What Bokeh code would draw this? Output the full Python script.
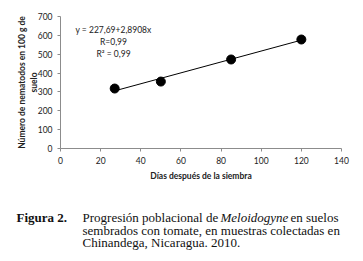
from bokeh.plotting import figure
from bokeh.layouts import column, row
from bokeh.models import Label, FixedTicker, Range1d
from bokeh.embed import file_html
from bokeh.resources import INLINE

dias = [27, 50, 85, 120]
nematodos = [318, 355, 472, 578]
intercept = 227.69
slope = 2.8908
x_ticks = [0, 20, 40, 60, 80, 100, 120, 140]
y_ticks = [0, 100, 200, 300, 400, 500, 600, 700]

fit_x = [min(dias), max(dias)]
fit_y = [intercept + slope * v for v in fit_x]

SANS = "Lato"
SERIF = "Liberation Serif"

p = figure(width=363, height=195, x_range=(0, 140), y_range=(0, 700),
           output_backend="svg", toolbar_location=None,
           min_border_left=60, min_border_right=22, min_border_top=16, min_border_bottom=47)
p.outline_line_color = None
p.xgrid.visible = False
p.ygrid.visible = False

for ax in (p.xaxis[0], p.yaxis[0]):
    ax.axis_line_color = "#8c8c8c"
    ax.major_tick_line_color = "#8c8c8c"
    ax.major_tick_out = 3
    ax.major_tick_in = 0
    ax.minor_tick_line_color = None
    ax.major_label_text_font = SANS
    ax.major_label_text_font_size = "8.5px"
    ax.major_label_text_color = "#222222"
    ax.axis_label_text_font = SANS
    ax.axis_label_text_font_size = "8.5px"
    ax.axis_label_text_font_style = "bold"
    ax.axis_label_text_color = "#222222"

p.xaxis[0].ticker = FixedTicker(ticks=x_ticks)
p.yaxis[0].ticker = FixedTicker(ticks=y_ticks)
p.xaxis[0].axis_label = "Días después de la siembra"
p.yaxis[0].axis_label = "Número de nematodos en 100 g de\nsuelo"
p.xaxis[0].axis_label_standoff = 4
p.yaxis[0].axis_label_standoff = -4

p.line(fit_x, fit_y, line_color="black", line_width=1)
p.scatter(dias, nematodos, size=9, color="black")

eq_lines = ["y = 227,69+2,8908x", "R=0,99", "R² = 0,99"]
eq_y = [630, 566, 503]
for t, yy in zip(eq_lines, eq_y):
    p.add_layout(Label(x=26.4, y=yy, text=t, text_font=SANS, text_font_size="8.5px",
                       text_color="#222222", text_align="center", text_baseline="middle"))

cap = figure(width=363, height=66, x_range=Range1d(0, 363), y_range=Range1d(66, 0),
             output_backend="svg", toolbar_location=None,
             x_axis_type=None, y_axis_type=None,
             min_border_left=0, min_border_right=0, min_border_top=0, min_border_bottom=0)
cap.grid.visible = False
cap.outline_line_color = None

def ctext(x, y, t, style="normal"):
    cap.add_layout(Label(x=x, y=y, text=t, text_font=SERIF, text_font_size="13px",
                         text_font_style=style, text_color="#111111",
                         text_align="left", text_baseline="middle"))

ctext(16, 22, "Figura 2.", "bold")
ctext(82, 22, "Progresión poblacional de")
ctext(220, 22, "Meloidogyne", "italic")
ctext(290, 22, "en suelos")
ctext(82, 34.5, "sembrados con tomate, en muestras colectadas en")
ctext(82, 47, "Chinandega, Nicaragua. 2010.")

open("out.html", "w").write(file_html(column(p, row(cap), spacing=0), INLINE))
